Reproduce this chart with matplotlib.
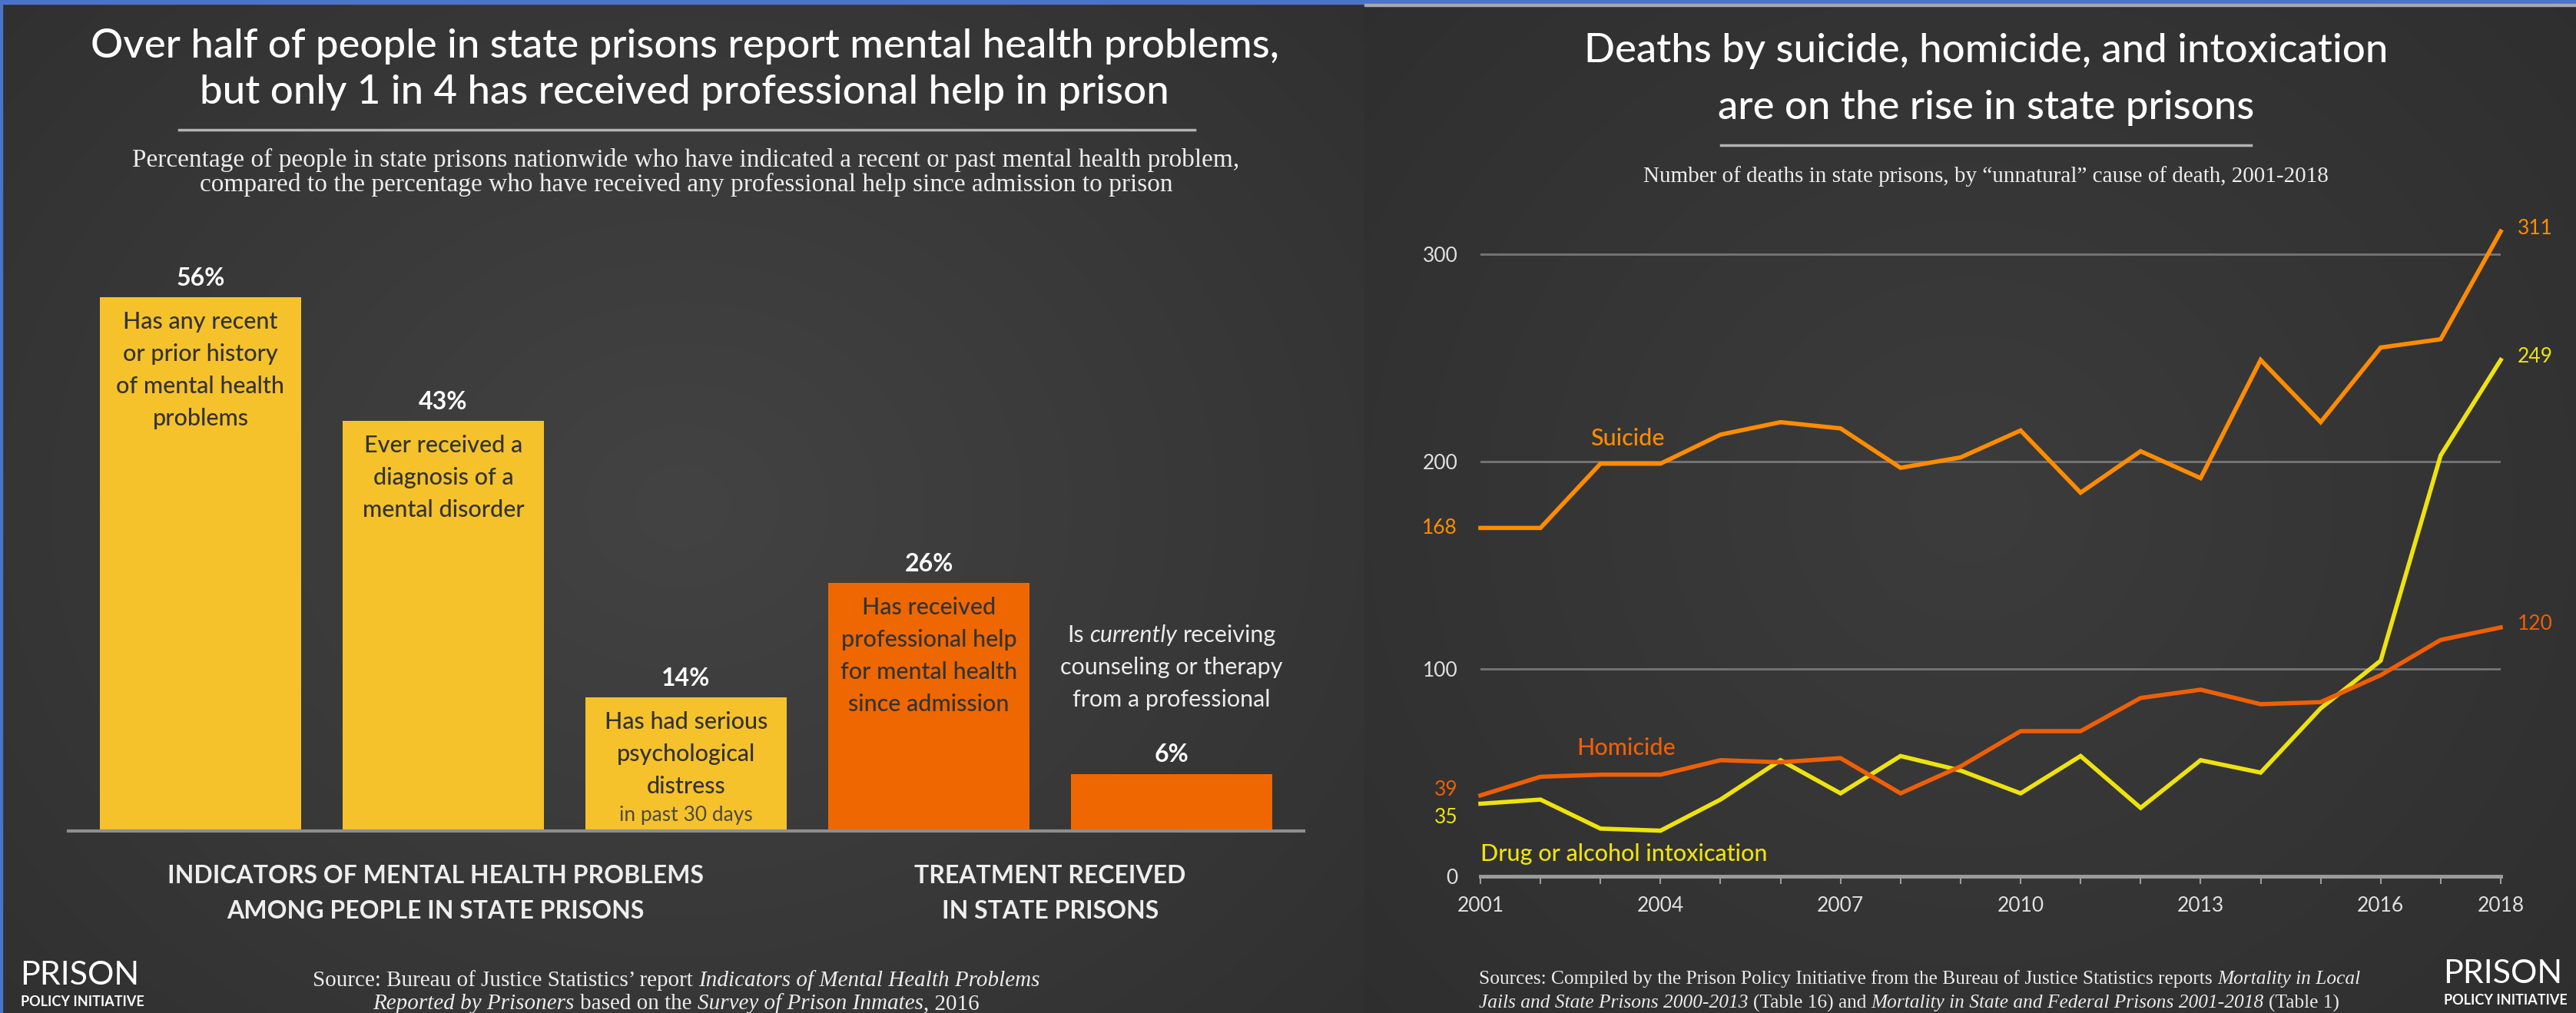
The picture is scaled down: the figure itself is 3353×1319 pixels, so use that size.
import numpy as np
import matplotlib.pyplot as plt
from matplotlib.patches import Rectangle

W, H = 3353, 1319
SPLIT = 1776  # pixel column where the right panel starts

# left panel: share of people in state prisons (%)
bar_values = [56, 43, 14, 26, 6]
bar_groups = ['indicators', 'indicators', 'indicators', 'treatment', 'treatment']
bar_texts = [
    ['Has any recent', 'or prior history', 'of mental health', 'problems'],
    ['Ever received a', 'diagnosis of a', 'mental disorder'],
    ['Has had serious', 'psychological', 'distress'],
    ['Has received', 'professional help', 'for mental health', 'since admission'],
    [],
]
group_names = ['indicators', 'treatment']
group_labels = ['INDICATORS OF MENTAL HEALTH PROBLEMS\nAMONG PEOPLE IN STATE PRISONS',
                'TREATMENT RECEIVED\nIN STATE PRISONS']

# right panel: deaths in state prisons by cause
years = list(range(2001, 2019))
suicide = [168, 168, 199, 199, 213, 219, 216, 197, 202, 215, 185, 205, 192, 249, 219, 255, 259, 311]
homicide = [39, 48, 49, 49, 56, 55, 57, 40, 53, 70, 70, 86, 90, 83, 84, 97, 114, 120]
intox = [35, 37, 23, 22, 37, 56, 40, 58, 51, 40, 58, 33, 56, 50, 81, 104, 203, 249]
year_ticks = [2001, 2004, 2007, 2010, 2013, 2016, 2018]
y_ticks = [0, 100, 200, 300]

YELLOW = '#F5C22B'
ORANGE = '#EF6700'
C_SUI = '#FF8C00'
C_HOM = '#EE5F06'
C_INT = '#EEE210'
DARK = '#333333'
LIGHT = '#ececec'

plt.rcParams['font.family'] = ['Lato', 'DejaVu Sans']
SERIF = 'Liberation Serif'

fig = plt.figure(figsize=(W / 100, H / 100), dpi=100)
bg = fig.add_axes([0, 0, 1, 1])
bg.axis('off')


def panel_bg(x0, x1, c_mid, c_edge):
    yy, xx = np.mgrid[0:1:300j, 0:1:300j]
    r = np.clip(np.sqrt(((xx - 0.5) / 0.75) ** 2 + ((yy - 0.5) / 0.85) ** 2), 0, 1)
    mid = np.array(c_mid) / 255
    edge = np.array(c_edge) / 255
    img = mid[None, None, :] * (1 - r[..., None]) + edge[None, None, :] * r[..., None]
    bg.imshow(img, extent=(x0, x1, H, 0), aspect='auto', zorder=0, interpolation='bilinear')


panel_bg(0, SPLIT, (67, 67, 67), (46, 46, 46))
panel_bg(SPLIT, W, (60, 60, 60), (45, 45, 45))
bg.set_xlim(0, W)
bg.set_ylim(H, 0)

# frame
bg.add_patch(Rectangle((0, 0), W, 5, color='#4a74c9', zorder=5))
bg.add_patch(Rectangle((0, 0), 3, H, color='#4a74c9', zorder=5))
bg.add_patch(Rectangle((SPLIT, 5), W - SPLIT, 2.5, color='#a8a8a8', zorder=5))

renderer = fig.canvas.get_renderer()


def text_w(s, **kw):
    t = bg.text(0, 0, s, **kw)
    w = t.get_window_extent(renderer).width
    t.remove()
    return w


def rich_line(x, y, parts, ha='center', size=19, color=LIGHT, family=SERIF, weight='normal'):
    # parts: list of (text, style); spaces at the joins are measured separately
    kw = dict(fontsize=size, family=family, fontweight=weight)
    sp = text_w('x x', **kw) - text_w('xx', **kw)
    pieces = [(s.strip(), st, s.startswith(' '), s.endswith(' ')) for s, st in parts]
    widths = [text_w(p[0], style=p[1], **kw) for p in pieces]
    total = sum(widths) + sp * sum(int(p[2]) + int(p[3]) for p in pieces)
    cx = x - total / 2 if ha == 'center' else x
    for (s, st, lead, trail), w in zip(pieces, widths):
        if lead:
            cx += sp
        bg.text(cx, y, s, style=st, color=color, va='center', ha='left', **kw)
        cx += w
        if trail:
            cx += sp


# ---------------- left panel: bars ----------------
bg.text(891, 60, 'Over half of people in state prisons report mental health problems,',
        fontsize=38, color='white', ha='center', va='center', fontweight='medium')
bg.text(891, 121, 'but only 1 in 4 has received professional help in prison',
        fontsize=38, color='white', ha='center', va='center', fontweight='medium')
bg.plot([233, 1555], [169, 169], color='#b4b4b4', lw=2.5)
bg.text(893, 208, 'Percentage of people in state prisons nationwide who have indicated a recent or past mental health problem,',
        fontsize=24, family=SERIF, color=LIGHT, ha='center', va='center')
bg.text(893, 240, 'compared to the percentage who have received any professional help since admission to prison',
        fontsize=24, family=SERIF, color=LIGHT, ha='center', va='center')

ax = fig.add_axes([89 / W, (H - 1082) / H, (1697 - 89) / W, (1082 - 300) / H])
ax.set_facecolor('none')
ax.set_xlim(-0.544, 4.544)
ax.set_ylim(0, (1082 - 300) / 12.41)
ax.axis('off')
xs = np.arange(len(bar_values))
colors = [YELLOW if g == 'indicators' else ORANGE for g in bar_groups]
ax.bar(xs, bar_values, width=0.83, color=colors, zorder=2)
ax.axhline(0, color='#8e8e8e', lw=3, zorder=3, clip_on=False)

for i, v in enumerate(bar_values):
    ax.annotate(f'{v}%', (i, v), xytext=(0, 25), textcoords='offset pixels',
                ha='center', va='center', fontsize=23, fontweight='bold', color='white')
    for k, line in enumerate(bar_texts[i]):
        ax.annotate(line, (i, v), xytext=(0, -32 - 42 * k), textcoords='offset pixels',
                    ha='center', va='center', fontsize=22, color=DARK, fontweight='medium',
                    annotation_clip=False)

ax.annotate('in past 30 days', (2, bar_values[2]), xytext=(0, -153), textcoords='offset pixels',
            ha='center', va='center', fontsize=19, color='#4e4a40')

# text above the last bar
px = bg.transData.inverted().transform(ax.transData.transform((4, bar_values[4])))
rich_line(px[0], px[1] - 181, [('Is ', 'normal'), ('currently', 'italic'), (' receiving', 'normal')],
          size=22, family='Lato', color=LIGHT)
for k, line in enumerate(['counseling or therapy', 'from a professional']):
    ax.annotate(line, (4, bar_values[4]), xytext=(0, 139 - 42 * k), textcoords='offset pixels',
                ha='center', va='center', fontsize=22, color=LIGHT)

for g, lab in zip(group_names, group_labels):
    gx = np.mean([i for i, b in enumerate(bar_groups) if b == g])
    for k, line in enumerate(lab.split('\n')):
        ax.annotate(line, (gx, 0), xytext=(-10 if g == 'indicators' else 0, -59 - 46 * k),
                    textcoords='offset pixels', ha='center', va='center',
                    fontsize=23, fontweight='bold', color='#eeeeee', annotation_clip=False)

rich_line(880, 1277, [('Source: Bureau of Justice Statistics\u2019 report ', 'normal'),
                      ('Indicators of Mental Health Problems', 'italic')], size=21)
rich_line(880, 1307, [('Reported by Prisoners', 'italic'), (' based on the ', 'normal'),
                      ('Survey of Prison Inmates', 'italic'), (', 2016', 'normal')], size=21)

bg.text(26, 1270, 'PRISON', fontsize=31, color='white', ha='left', va='center')
bg.text(27, 1305, 'POLICY INITIATIVE', fontsize=13, color='white', ha='left', va='center', fontweight='bold')

# ---------------- right panel: lines ----------------
bg.text(2585, 67, 'Deaths by suicide, homicide, and intoxication',
        fontsize=38, color='white', ha='center', va='center', fontweight='medium')
bg.text(2585, 140, 'are on the rise in state prisons',
        fontsize=38, color='white', ha='center', va='center', fontweight='medium')
bg.plot([2240, 2930], [189, 189], color='#b4b4b4', lw=2.5)
bg.text(2585, 230, 'Number of deaths in state prisons, by \u201cunnatural\u201d cause of death, 2001-2018',
        fontsize=21, family=SERIF, color=LIGHT, ha='center', va='center')

ax2 = fig.add_axes([1927 / W, (H - 1141) / H, (3255 - 1927) / W, (1141 - 277) / H])
ax2.set_facecolor('none')
ax2.set_xlim(2001, 2018)
ax2.set_ylim(0, (1141 - 277) / 2.7)
for s in ax2.spines.values():
    s.set_visible(False)
for yv in y_ticks[1:]:
    ax2.axhline(yv, color='#777777', lw=2, zorder=1)
ax2.axhline(0, color='#9c9c9c', lw=3.5, zorder=1, clip_on=False)

ax2.plot(years, intox, color=C_INT, lw=4, zorder=3, clip_on=False, solid_joinstyle='miter')
ax2.plot(years, homicide, color=C_HOM, lw=4, zorder=4, clip_on=False, solid_joinstyle='miter')
ax2.plot(years, suicide, color=C_SUI, lw=4, zorder=5, clip_on=False, solid_joinstyle='miter')

ax2.set_yticks(y_ticks)
ax2.set_yticklabels([str(v) for v in y_ticks])
ax2.tick_params(axis='y', length=0, pad=21, labelsize=19, labelcolor='#e0e0e0')
ax2.set_xticks(year_ticks)
ax2.set_xticks(years, minor=True)
ax2.set_xticklabels([str(y) for y in year_ticks])
ax2.tick_params(axis='x', which='both', length=7, width=1.5, color='#9c9c9c', direction='out')
ax2.tick_params(axis='x', which='major', pad=12, labelsize=19, labelcolor='#e0e0e0')

# start / end values
for series, col, dy in [(suicide, C_SUI, 0), (homicide, C_HOM, 7), (intox, C_INT, -18)]:
    ax2.annotate(str(series[0]), (years[0], series[0]), xytext=(-30, dy), textcoords='offset pixels',
                 ha='right', va='center', fontsize=19, color=col, annotation_clip=False)
    ax2.annotate(str(series[-1]), (years[-1], series[-1]), xytext=(22, 4), textcoords='offset pixels',
                 ha='left', va='center', fontsize=19, color=col, annotation_clip=False)

ax2.text(2002.83, 211, 'Suicide', fontsize=22, color=C_SUI, ha='left', va='center', fontweight='medium')
ax2.text(2002.6, 62, 'Homicide', fontsize=22, color=C_HOM, ha='left', va='center', fontweight='medium')
ax2.text(2001.0, 10.7, 'Drug or alcohol intoxication', fontsize=22, color=C_INT, ha='left', va='center',
         fontweight='medium')

rich_line(1925, 1275, [('Sources: Compiled by the Prison Policy Initiative from the Bureau of Justice Statistics reports ', 'normal'),
                       ('Mortality in Local', 'italic')], ha='left', size=18.3)
rich_line(1925, 1306, [('Jails and State Prisons 2000-2013', 'italic'), (' (Table 16) and ', 'normal'),
                       ('Mortality in State and Federal Prisons 2001-2018', 'italic'), (' (Table 1)', 'normal')],
          ha='left', size=18.3)

bg.text(3180, 1268, 'PRISON', fontsize=31, color='white', ha='left', va='center')
bg.text(3181, 1303, 'POLICY INITIATIVE', fontsize=13, color='white', ha='left', va='center', fontweight='bold')

fig.savefig('out.png', dpi=100)
